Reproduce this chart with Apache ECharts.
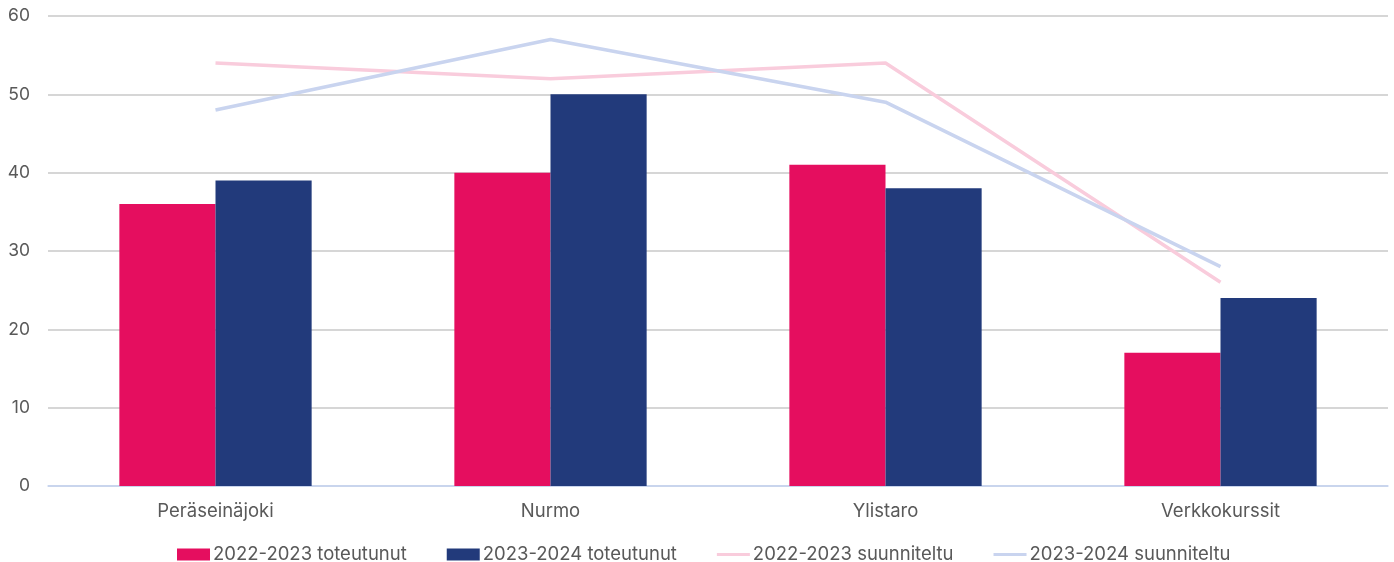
<!DOCTYPE html>
<html><head><meta charset="utf-8">
<script src="https://cdn.jsdelivr.net/npm/echarts@6/dist/echarts.min.js"></script>
<style>html,body{margin:0;padding:0;background:#fff}#c{width:1394px;height:562px}</style>
</head><body><div id="c"></div>
<script>
const categories = ['Peräseinäjoki', 'Nurmo', 'Ylistaro', 'Verkkokurssit'];
const yTicks = [0, 10, 20, 30, 40, 50, 60];
const toteutunut2223 = [36, 40, 41, 17];
const toteutunut2324 = [39, 50, 38, 24];
const suunniteltu2223 = [54, 52, 54, 26];
const suunniteltu2324 = [48, 57, 49, 28];

const font = 'Inter, "Noto Sans", sans-serif';
const lineIcon = 'path://M0,0h0.01v0.01h-0.01z M0,4.6h33v2.8h-33z M32.99,11.99h0.01v0.01h-0.01z';
const chart = echarts.init(document.getElementById('c'), null, {renderer: 'canvas'});
chart.setOption({
  animation: false,
  grid: {left: 48, right: 6, top: 16, bottom: 76, containLabel: false},
  legend: {
    top: 540, left: 172, itemGap: 40, itemWidth: 33, itemHeight: 12,
    textStyle: {color: '#595959', fontSize: 18.5, fontFamily: font, padding: [0, 0, 0, -2]},
    data: [
      {name: '2022-2023 toteutunut', icon: 'rect'},
      {name: '2023-2024 toteutunut', icon: 'rect'},
      {name: '2022-2023 suunniteltu', icon: lineIcon},
      {name: '2023-2024 suunniteltu', icon: lineIcon}
    ]
  },
  xAxis: {
    type: 'category', data: categories,
    axisLine: {lineStyle: {color: '#c5d5f5', width: 1.5}},
    axisTick: {show: false},
    axisLabel: {color: '#595959', fontSize: 18.5, fontFamily: font, margin: 16}
  },
  yAxis: {
    type: 'value', min: yTicks[0], max: yTicks[yTicks.length - 1], interval: 10,
    axisLine: {show: false}, axisTick: {show: false},
    splitLine: {lineStyle: {color: '#c8c8c8', width: 1.5}},
    axisLabel: {color: '#595959', fontSize: 17.5, fontFamily: font, margin: 18}
  },
  series: [
    {name: '2022-2023 toteutunut', type: 'bar', data: toteutunut2223, barWidth: '28.7%', barGap: '0%',
     itemStyle: {color: '#e50e5f'}},
    {name: '2023-2024 toteutunut', type: 'bar', data: toteutunut2324, barWidth: '28.7%', barGap: '0%',
     itemStyle: {color: '#223a7b'}},
    {name: '2022-2023 suunniteltu', type: 'line', data: suunniteltu2223, symbol: 'none',
     lineStyle: {color: '#f9ccdc', width: 3.5}, itemStyle: {color: '#f9ccdc'}},
    {name: '2023-2024 suunniteltu', type: 'line', data: suunniteltu2324, symbol: 'none',
     lineStyle: {color: '#c9d4ef', width: 3.5}, itemStyle: {color: '#c9d4ef'}}
  ]
});
</script></body></html>
